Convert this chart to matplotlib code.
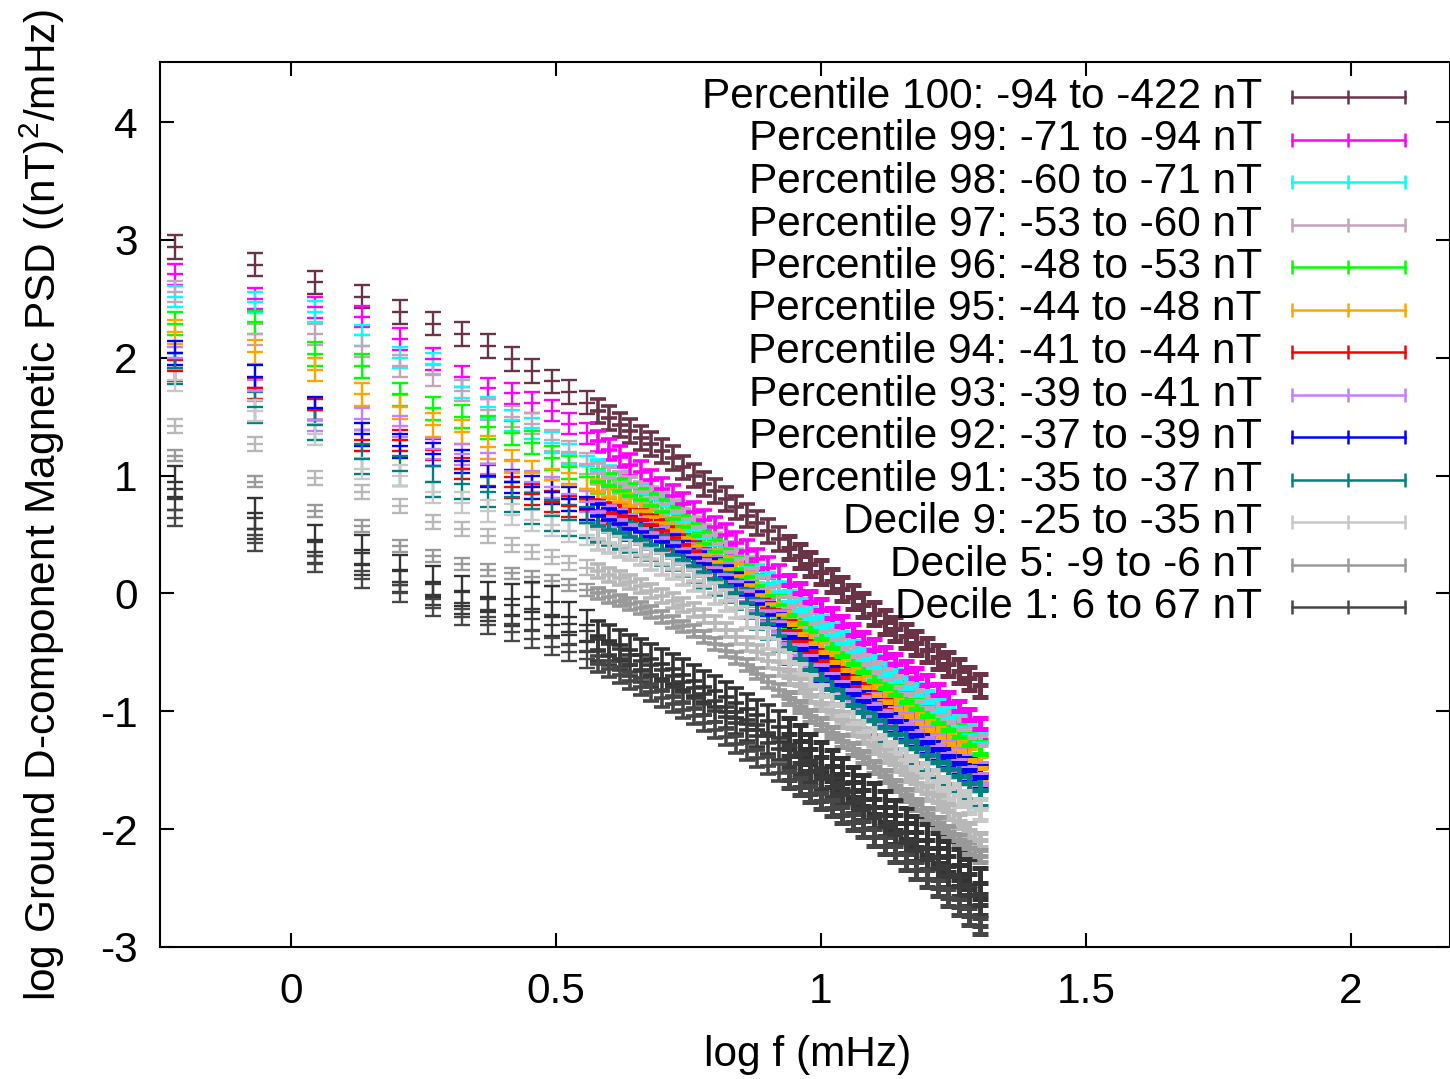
#
# Ground D-component magnetic PSD versus frequency, binned by Dst
# percentile / decile, drawn gnuplot-style with y error bars.
#
import matplotlib
matplotlib.use("Agg")
import matplotlib.pyplot as plt
from matplotlib.lines import Line2D

# log10 frequency (mHz) of each spectral bin
LOG_F = [-0.219, -0.068, 0.045, 0.134, 0.206, 0.268, 0.323, 0.372, 0.417,
         0.455, 0.492, 0.525, 0.558,
         0.58, 0.60, 0.62, 0.64, 0.66, 0.68, 0.70, 0.72, 0.74, 0.76, 0.78,
         0.80, 0.82, 0.84, 0.86, 0.88, 0.90, 0.92, 0.94, 0.96, 0.98, 1.00,
         1.02, 1.04, 1.06, 1.08, 1.10, 1.12, 1.14, 1.16, 1.18, 1.20, 1.22,
         1.24, 1.26, 1.28, 1.30]

# log PSD per Dst bin
P100 = [2.94, 2.79, 2.64, 2.52, 2.39, 2.29, 2.2, 2.1, 1.99, 1.89, 1.8, 1.71, 1.62,
        1.55, 1.49, 1.43, 1.38, 1.32, 1.27, 1.21, 1.15, 1.07, 1.0, 0.93, 0.87,
        0.8, 0.73, 0.66, 0.6, 0.53, 0.46, 0.39, 0.32, 0.25, 0.18, 0.11, 0.04,
        -0.03, -0.1, -0.17, -0.24, -0.3, -0.36, -0.42, -0.48, -0.54, -0.6,
        -0.66, -0.72, -0.78]
P99 = [2.71, 2.5, 2.43, 2.35, 2.16, 1.99, 1.84, 1.74, 1.7, 1.62, 1.55, 1.44, 1.36,
       1.29, 1.22, 1.16, 1.09, 1.03, 0.96, 0.89, 0.83, 0.76, 0.69, 0.62, 0.56,
       0.5, 0.43, 0.36, 0.29, 0.22, 0.15, 0.07, 0.0, -0.07, -0.14, -0.21, -0.28,
       -0.35, -0.42, -0.48, -0.54, -0.6, -0.66, -0.72, -0.78, -0.86, -0.93,
       -1.0, -1.07, -1.15]
P98 = [2.52, 2.47, 2.39, 2.19, 2.0, 1.95, 1.75, 1.58, 1.47, 1.4, 1.28, 1.18, 1.08,
       1.04, 0.99, 0.94, 0.9, 0.85, 0.8, 0.74, 0.68, 0.61, 0.54, 0.47, 0.41,
       0.35, 0.29, 0.22, 0.15, 0.08, 0.01, -0.07, -0.14, -0.21, -0.28, -0.35,
       -0.42, -0.49, -0.56, -0.62, -0.68, -0.74, -0.8, -0.86, -0.92, -0.99,
       -1.06, -1.13, -1.2, -1.27]
P97 = [2.56, 2.2, 2.2, 2.1, 1.93, 1.85, 1.72, 1.56, 1.5, 1.44, 1.3, 1.2, 1.1,
       1.02, 0.98, 0.94, 0.9, 0.86, 0.81, 0.76, 0.7, 0.63, 0.56, 0.49, 0.42,
       0.35, 0.28, 0.21, 0.13, 0.05, -0.03, -0.11, -0.18, -0.25, -0.32, -0.39,
       -0.46, -0.53, -0.6, -0.67, -0.73, -0.79, -0.85, -0.91, -0.97, -1.03,
       -1.09, -1.15, -1.22, -1.29]
P96 = [2.29, 2.3, 2.03, 1.93, 1.69, 1.57, 1.5, 1.41, 1.36, 1.28, 1.15, 1.07, 0.99,
       0.95, 0.91, 0.87, 0.83, 0.79, 0.74, 0.69, 0.63, 0.56, 0.49, 0.42, 0.35,
       0.28, 0.21, 0.14, 0.06, -0.02, -0.1, -0.18, -0.25, -0.32, -0.39, -0.46,
       -0.53, -0.6, -0.67, -0.74, -0.8, -0.86, -0.92, -0.98, -1.04, -1.1,
       -1.16, -1.22, -1.29, -1.36]
P95 = [2.22, 2.05, 1.9, 1.69, 1.58, 1.43, 1.37, 1.24, 1.12, 1.02, 0.96, 0.92, 0.89,
       0.86, 0.82, 0.78, 0.74, 0.7, 0.65, 0.6, 0.54, 0.47, 0.4, 0.33, 0.27,
       0.21, 0.15, 0.07, -0.01, -0.09, -0.18, -0.26, -0.34, -0.42, -0.5, -0.58,
       -0.65, -0.72, -0.79, -0.86, -0.92, -0.98, -1.04, -1.1, -1.16, -1.22,
       -1.28, -1.34, -1.41, -1.48]
P94 = [1.89, 1.74, 1.56, 1.3, 1.3, 1.22, 1.06, 1.0, 0.9, 0.84, 0.78, 0.74, 0.71,
       0.7, 0.68, 0.66, 0.64, 0.62, 0.58, 0.53, 0.47, 0.41, 0.35, 0.29, 0.22,
       0.15, 0.09, 0.02, -0.06, -0.14, -0.23, -0.32, -0.41, -0.49, -0.57, -0.65,
       -0.72, -0.79, -0.86, -0.93, -0.99, -1.05, -1.11, -1.17, -1.23, -1.29,
       -1.35, -1.41, -1.47, -1.53]
P93 = [2.0, 1.72, 1.47, 1.48, 1.42, 1.23, 1.18, 1.1, 1.04, 0.95, 0.9, 0.84, 0.78,
       0.69, 0.65, 0.62, 0.58, 0.55, 0.51, 0.47, 0.43, 0.38, 0.33, 0.28, 0.22,
       0.16, 0.1, 0.02, -0.06, -0.15, -0.24, -0.34, -0.44, -0.53, -0.61, -0.68,
       -0.75, -0.82, -0.88, -0.94, -1.0, -1.05, -1.11, -1.17, -1.23, -1.29,
       -1.35, -1.41, -1.47, -1.53]
P92 = [2.04, 1.84, 1.57, 1.35, 1.25, 1.18, 1.12, 1.0, 0.95, 0.9, 0.86, 0.8, 0.72,
       0.66, 0.62, 0.59, 0.55, 0.52, 0.48, 0.44, 0.4, 0.35, 0.3, 0.25, 0.19,
       0.13, 0.07, -0.01, -0.09, -0.18, -0.27, -0.37, -0.47, -0.56, -0.64,
       -0.71, -0.78, -0.85, -0.91, -0.97, -1.03, -1.08, -1.14, -1.2, -1.26,
       -1.32, -1.38, -1.44, -1.5, -1.56]
P91 = [1.91, 1.58, 1.43, 1.14, 1.04, 0.95, 0.93, 0.86, 0.82, 0.72, 0.66, 0.62, 0.6,
       0.57, 0.54, 0.51, 0.48, 0.45, 0.41, 0.37, 0.33, 0.28, 0.23, 0.18, 0.12,
       0.06, 0.0, -0.08, -0.17, -0.26, -0.36, -0.46, -0.56, -0.65, -0.73, -0.81,
       -0.88, -0.95, -1.01, -1.07, -1.13, -1.19, -1.25, -1.31, -1.37, -1.43,
       -1.49, -1.55, -1.61, -1.67]
D9 = [1.81, 1.55, 1.35, 1.06, 1.0, 0.86, 0.77, 0.7, 0.67, 0.62, 0.58, 0.53, 0.5,
      0.46, 0.43, 0.4, 0.37, 0.33, 0.29, 0.25, 0.21, 0.16, 0.11, 0.06, 0.0,
      -0.06, -0.12, -0.2, -0.29, -0.38, -0.48, -0.58, -0.68, -0.78, -0.87,
      -0.95, -1.03, -1.1, -1.17, -1.23, -1.29, -1.35, -1.41, -1.47, -1.53,
      -1.59, -1.65, -1.71, -1.77, -1.83]
D8 = [1.42, 1.27, 0.98, 0.86, 0.74, 0.61, 0.55, 0.49, 0.41, 0.35, 0.31, 0.26, 0.22,
      0.19, 0.16, 0.13, 0.1, 0.06, 0.02, -0.02, -0.06, -0.1, -0.14, -0.19,
      -0.25, -0.31, -0.37, -0.43, -0.5, -0.57, -0.64, -0.71, -0.78, -0.86,
      -0.93, -1.0, -1.07, -1.14, -1.21, -1.29, -1.37, -1.45, -1.53, -1.61,
      -1.69, -1.77, -1.85, -1.93, -2.01, -2.09]
D5 = [1.17, 0.95, 0.7, 0.57, 0.4, 0.32, 0.25, 0.2, 0.17, 0.14, 0.11, 0.07, 0.03,
      0.0, -0.03, -0.06, -0.09, -0.12, -0.16, -0.2, -0.24, -0.28, -0.32, -0.37,
      -0.43, -0.49, -0.55, -0.61, -0.68, -0.75, -0.82, -0.89, -0.96, -1.04,
      -1.11, -1.18, -1.25, -1.32, -1.39, -1.47, -1.55, -1.63, -1.71, -1.79,
      -1.87, -1.95, -2.02, -2.09, -2.16, -2.23]
D3 = [0.95, 0.68, 0.45, 0.37, 0.2, 0.1, 0.02, -0.03, -0.05, -0.03, -0.07, -0.2, -0.27,
      -0.36, -0.4, -0.44, -0.48, -0.52, -0.56, -0.6, -0.64, -0.69, -0.74, -0.79,
      -0.83, -0.88, -0.93, -0.98, -1.03, -1.08, -1.13, -1.19, -1.25, -1.32,
      -1.39, -1.46, -1.53, -1.6, -1.67, -1.74, -1.81, -1.88, -1.95, -2.02,
      -2.09, -2.16, -2.23, -2.3, -2.38, -2.46]
D2 = [0.8, 0.55, 0.35, 0.25, 0.1, -0.01, -0.08, -0.14, -0.19, -0.22, -0.27, -0.35, -0.41,
      -0.48, -0.52, -0.56, -0.61, -0.66, -0.7, -0.74, -0.79, -0.84, -0.89,
      -0.94, -1.0, -1.05, -1.1, -1.16, -1.21, -1.27, -1.32, -1.38, -1.44,
      -1.51, -1.57, -1.64, -1.7, -1.77, -1.83, -1.9, -1.97, -2.04, -2.11,
      -2.18, -2.25, -2.33, -2.4, -2.48, -2.56, -2.64]
D1 = [0.64, 0.43, 0.25, 0.12, 0.0, -0.12, -0.2, -0.27, -0.33, -0.39, -0.45, -0.5, -0.56,
      -0.6, -0.64, -0.69, -0.74, -0.79, -0.84, -0.89, -0.94, -0.99, -1.04,
      -1.1, -1.16, -1.22, -1.28, -1.34, -1.4, -1.46, -1.52, -1.58, -1.64,
      -1.7, -1.76, -1.82, -1.88, -1.94, -2.0, -2.07, -2.14, -2.21, -2.28,
      -2.35, -2.42, -2.5, -2.58, -2.66, -2.74, -2.82]

SERIES_VALUES = [P100, P99, P98, P97, P96, P95, P94, P93, P92, P91,
                 D9, D8, D5, D3, D2, D1]
# half-width of the error bar of each bin, in log PSD
SERIES_ERRORS = [0.10, 0.09, 0.09, 0.09, 0.10, 0.10, 0.09, 0.09, 0.10, 0.13,
                 0.09, 0.06, 0.05, 0.13, 0.09, 0.07]
SERIES_LABELS = ["Percentile 100: -94 to -422 nT",
                 "Percentile 99: -71 to -94 nT",
                 "Percentile 98: -60 to -71 nT",
                 "Percentile 97: -53 to -60 nT",
                 "Percentile 96: -48 to -53 nT",
                 "Percentile 95: -44 to -48 nT",
                 "Percentile 94: -41 to -44 nT",
                 "Percentile 93: -39 to -41 nT",
                 "Percentile 92: -37 to -39 nT",
                 "Percentile 91: -35 to -37 nT",
                 "Decile 9: -25 to -35 nT",
                 None,
                 "Decile 5: -9 to -6 nT",
                 None,
                 None,
                 "Decile 1: 6 to 67 nT"]

COLORS = ["#6a3446", "#ff00ff", "#00ffff", "#c4a4b8", "#00ff00", "#ffa500",
          "#ff0000", "#c080ff", "#0000ff", "#008080",
          "#c8c8c8", "#b8b8b8", "#999999", "#333333", "#3a3a3a", "#474747"]

W, H = 1450, 1079

# bins get denser toward high frequency, so the bars there are drawn heavier
# (index ranges into LOG_F, bar line width in points)
SEGMENTS = [(0, 13, 1.7), (13, 31, 2.6), (31, 50, 3.6)]


def fx(px):
    return px / W


def fy(py):
    return 1 - py / H


def draw_key(fig, labels, colors):
    """gnuplot-style key: right-aligned text followed by an error-bar sample."""
    row = 0
    for label, color in zip(labels, colors):
        if label is None:
            continue
        y = 97 + 42.5 * row
        fig.text(fx(1262), fy(y), label, ha="right", va="center",
                 fontsize=30.5, color="black", zorder=10)
        fig.add_artist(Line2D([fx(1292), fx(1405)], [fy(y), fy(y)],
                              color=color, lw=1.8, transform=fig.transFigure))
        fig.add_artist(Line2D([fx(1292), fx(1348), fx(1405)], [fy(y)] * 3,
                              color=color, lw=0, marker="|", markersize=10,
                              markeredgewidth=1.8, transform=fig.transFigure))
        row += 1


def main():
    plt.rcParams["font.family"] = ["Liberation Sans", "DejaVu Sans"]
    plt.rcParams["axes.unicode_minus"] = False
    plt.rcParams["mathtext.fontset"] = "custom"
    plt.rcParams["mathtext.rm"] = "Liberation Sans"

    fig = plt.figure(figsize=(W / 100, H / 100), dpi=100)
    ax = fig.add_axes([fx(160), fy(947), fx(1290), 885 / H])

    for vals, err, color in zip(SERIES_VALUES, SERIES_ERRORS, COLORS):
        for i0, i1, lw in SEGMENTS:
            ax.errorbar(LOG_F[i0:i1], vals[i0:i1], yerr=err, fmt="_",
                        color=color, ecolor=color, elinewidth=lw,
                        capsize=5.8, capthick=lw,
                        markersize=11.5, markeredgewidth=lw)

    ax.set_xlim(-0.2472, 2.1868)
    ax.set_ylim(-3, 4.51)
    ax.set_xticks([0, 0.5, 1, 1.5, 2])
    ax.set_xticklabels(["0", "0.5", "1", "1.5", "2"])
    ax.set_yticks(range(-3, 5))
    ax.tick_params(direction="in", length=10, width=1.5, labelsize=30.5,
                   top=True, right=True)
    ax.tick_params(axis="y", pad=16)
    ax.tick_params(axis="x", pad=18)
    for sp in ax.spines.values():
        sp.set_linewidth(1.5)

    fig.text(fx(42), fy(505), r"log Ground D-component Magnetic PSD ((nT)$^{2}$/mHz)",
             rotation=90, ha="center", va="center", fontsize=30.5)
    fig.text(fx(808), fy(1055), "log f (mHz)", ha="center", va="center",
             fontsize=30.5)

    draw_key(fig, SERIES_LABELS, COLORS)

    fig.savefig("out.png", dpi=100)
    plt.close(fig)


if __name__ == "__main__":
    main()
